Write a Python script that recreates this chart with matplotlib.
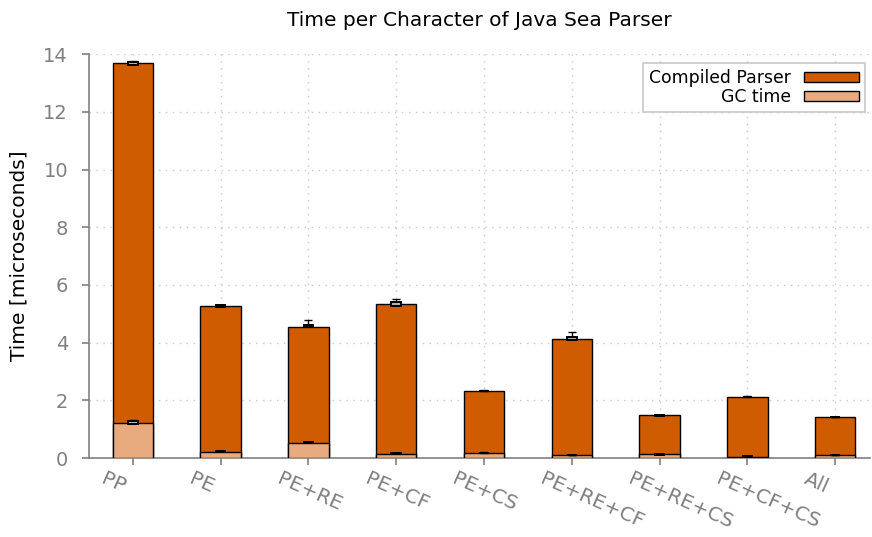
import matplotlib
matplotlib.use("Agg")
import matplotlib.pyplot as plt
import numpy as np

# per-character parse time, microseconds
configs = ["PP", "PE", "PE+RE", "PE+CF", "PE+CS", "PE+RE+CF", "PE+RE+CS", "PE+CF+CS", "All"]
total = [13.68, 5.27, 4.56, 5.33, 2.33, 4.13, 1.48, 2.12, 1.42]
gc_time = [1.22, 0.22, 0.52, 0.15, 0.18, 0.10, 0.13, 0.05, 0.10]

# spread of the repeated runs: quartile box and upper whisker
total_q1 = [13.63, 5.25, 4.53, 5.28, 2.32, 4.11, 1.47, 2.11, 1.41]
total_q3 = [13.72, 5.30, 4.63, 5.41, 2.34, 4.20, 1.49, 2.13, 1.43]
total_hi = [13.78, 5.32, 4.80, 5.52, 2.35, 4.37, 1.50, 2.14, 1.44]
gc_q1 = [1.19, 0.21, 0.51, 0.14, 0.17, 0.09, 0.12, 0.04, 0.09]
gc_q3 = [1.27, 0.23, 0.54, 0.16, 0.19, 0.11, 0.14, 0.06, 0.11]
gc_hi = [1.32, 0.24, 0.55, 0.17, 0.20, 0.12, 0.15, 0.07, 0.12]

DARK = "#cf5c00"
LIGHT = "#e8ab80"
GREY = "#808080"

fig = plt.figure(figsize=(8.72, 5.37), dpi=100)
ax = fig.add_axes([0.102, 0.147, 0.896, 0.752])

x = np.arange(len(configs))
w = 0.46
ax.bar(x, total, w, color=DARK, edgecolor="black", linewidth=1.0, label="Compiled Parser", zorder=2)
ax.bar(x, gc_time, w, color=LIGHT, edgecolor="black", linewidth=1.0, label="GC time", zorder=3)

def spread(q1, q3, hi):
    q1, q3, hi = map(np.array, (q1, q3, hi))
    ax.errorbar(x, q3, yerr=[np.zeros_like(q3), hi - q3], fmt="none",
                ecolor="black", elinewidth=1.0, capsize=3, capthick=1.0, zorder=4)
    ax.bar(x, q3 - q1, 0.11, bottom=q1, color="#b0b0b0", edgecolor="black",
           linewidth=1.4, zorder=5)

spread(total_q1, total_q3, total_hi)
spread(gc_q1, gc_q3, gc_hi)

ax.set_xlim(-0.5, 8.4)
ax.set_ylim(0, 14)
ax.set_yticks(range(0, 15, 2))
ax.set_xticks(x)
ax.set_xticklabels([])

for xi, name in zip(x, configs):
    ax.annotate(name, xy=(xi, 0), xycoords=("data", "axes fraction"),
                xytext=(-19, -8), textcoords="offset points",
                rotation=-24, rotation_mode="anchor", ha="left", va="top",
                fontsize=14.5, color=GREY)

ax.grid(True, linestyle=(0, (1, 4)), color="#c8c8c8", linewidth=1.0, zorder=0)
ax.set_axisbelow(True)
for side in ("top", "right"):
    ax.spines[side].set_visible(False)
for side in ("left", "bottom"):
    ax.spines[side].set_color(GREY)
    ax.spines[side].set_linewidth(1.2)
ax.tick_params(axis="both", direction="out", length=5, width=1.2, color=GREY,
               labelcolor=GREY, labelsize=14)
ax.tick_params(axis="y", pad=10)

ax.set_ylabel("Time [microseconds]", fontsize=14.5, labelpad=11)
ax.set_title("Time per Character of Java Sea Parser", fontsize=14.5, pad=20)

leg = ax.legend(loc="upper right", bbox_to_anchor=(0.9936, 0.978), borderaxespad=0,
                markerfirst=False, fontsize=12.4, handlelength=3.2, handleheight=0.52,
                handletextpad=0.75, labelspacing=0.05, borderpad=0.35,
                fancybox=False, framealpha=1.0, edgecolor="#c8c8c8")
leg.get_frame().set_linewidth(1.2)
for t in leg.get_texts():
    t.set_ha("right")

fig.savefig("out.png", dpi=100)
